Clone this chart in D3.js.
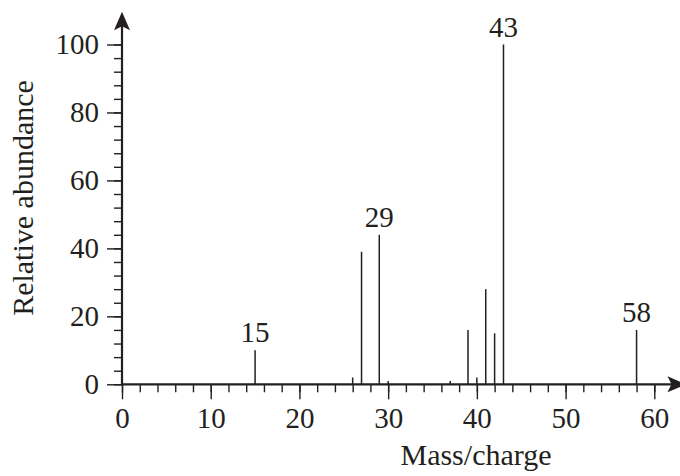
<!doctype html>
<html>
  <head>
    <script src="https://cdn.jsdelivr.net/npm/d3@7/dist/d3.min.js"></script>
    <style>
    body { margin: 0; background: #fff; }
    svg, svg text { font-family: "Liberation Serif", "DejaVu Serif", serif; }
    .tick line { stroke: #231f20; stroke-width: 1.4; }
    .tick text { fill: #231f20; font-size: 29px; font-family: "Liberation Serif", serif; }
    .peak { stroke: #231f20; stroke-width: 1.5; }
    .axisline { stroke: #231f20; stroke-width: 2.2; }
    .label { fill: #231f20; font-size: 29px; }
    .title { fill: #231f20; font-size: 30px; }
    </style>
  </head>
  <body>
    <svg width="680" height="476"></svg>
    <script>
      // mass spectrum peaks
      var massCharge = [15, 26, 27, 29, 30, 37, 39, 40, 41, 42, 43, 58];
      var abundance  = [10, 2, 39, 44, 1, 1, 16, 2, 28, 15, 100, 16];
      var labelled   = [15, 29, 43, 58];
      var xMajor = [0, 10, 20, 30, 40, 50, 60];
      var yMajor = [0, 20, 40, 60, 80, 100];

      var svg = d3.select("svg");

      var x = d3.scaleLinear().domain([0, 60]).range([122, 654.3]);
      var y = d3.scaleLinear().domain([0, 100]).range([384.3, 44.5]);

      // minor ticks
      svg.append("g")
        .attr("transform", `translate(0,${y(0)})`)
        .call(d3.axisBottom(x).tickValues(d3.range(0, 61, 2)).tickSize(8).tickFormat(""));
      svg.append("g")
        .attr("transform", `translate(${x(0)},0)`)
        .call(d3.axisLeft(y).tickValues(d3.range(0, 101, 4)).tickSize(8).tickFormat(""));

      // major ticks with labels
      var xAxis = svg.append("g")
        .attr("transform", `translate(0,${y(0)})`)
        .call(d3.axisBottom(x).tickValues(xMajor).tickSize(15));
      xAxis.selectAll("text").attr("dy", null).attr("y", 43.7);

      svg.append("g")
        .attr("transform", `translate(${x(0)},0)`)
        .call(d3.axisLeft(y).tickValues(yMajor).tickSize(15).tickPadding(8));

      svg.selectAll(".domain").remove();
      svg.selectAll("g").attr("font-family", null).attr("font-size", null);

      // peaks
      svg.selectAll("line.peak")
        .data(massCharge)
        .enter()
        .append("line")
          .attr("class", "peak")
          .attr("x1", d => x(d))
          .attr("x2", d => x(d))
          .attr("y1", y(0))
          .attr("y2", (d, i) => y(abundance[i]));

      svg.selectAll("text.label")
        .data(labelled)
        .enter()
        .append("text")
          .attr("class", "label")
          .attr("text-anchor", "middle")
          .attr("x", d => x(d))
          .attr("y", d => y(abundance[massCharge.indexOf(d)]) - 8)
          .text(d => d);

      // axis lines with arrow heads
      svg.append("line").attr("class", "axisline")
        .attr("x1", x(0)).attr("x2", x(0)).attr("y1", y(0) + 1).attr("y2", 26);
      svg.append("line").attr("class", "axisline")
        .attr("x1", x(0) - 1).attr("x2", 672).attr("y1", y(0)).attr("y2", y(0));

      var ax = x(0), ay = 11.7;
      svg.append("path")
        .attr("d", `M${ax},${ay} L${ax + 8},${ay + 18.5} L${ax},${ay + 14.5} L${ax - 8},${ay + 18.5} Z`)
        .attr("fill", "#231f20");
      var bx = 686, by = y(0);
      svg.append("path")
        .attr("d", `M${bx},${by} L${bx - 18.5},${by - 8} L${bx - 14.5},${by} L${bx - 18.5},${by + 8} Z`)
        .attr("fill", "#231f20");

      // axis titles
      svg.append("text").attr("class", "title")
        .attr("text-anchor", "middle")
        .attr("transform", "translate(33,198) rotate(-90)")
        .text("Relative abundance");
      svg.append("text").attr("class", "title")
        .attr("text-anchor", "middle")
        .attr("x", 476).attr("y", 465)
        .text("Mass/charge");
    </script>
  </body>
</html>
